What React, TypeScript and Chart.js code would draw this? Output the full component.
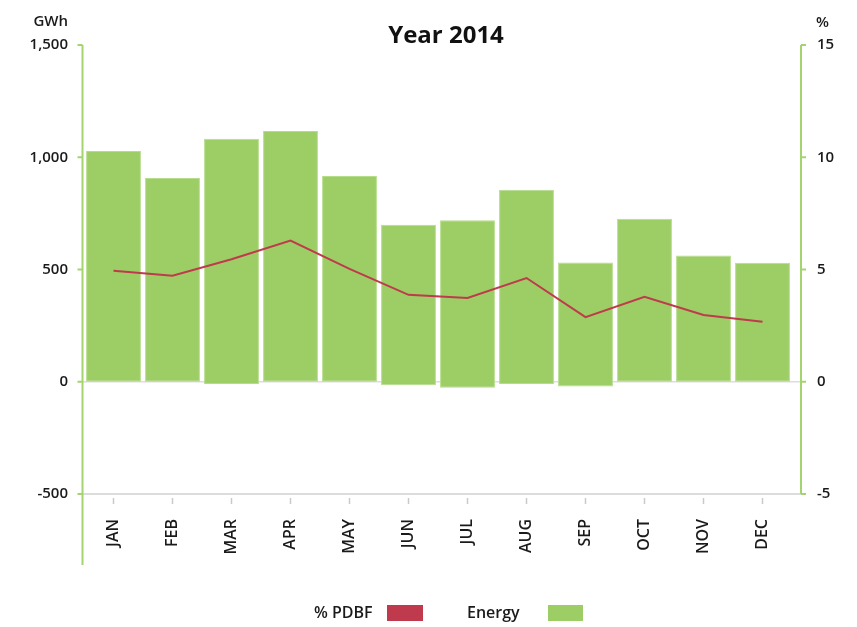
import React, { useEffect, useRef } from 'react';
import { Chart, registerables } from 'chart.js';

Chart.register(...registerables);

const months = ['JAN', 'FEB', 'MAR', 'APR', 'MAY', 'JUN', 'JUL', 'AUG', 'SEP', 'OCT', 'NOV', 'DEC'];
const energyHigh = [1028, 908, 1082, 1117, 917, 699, 719, 855, 531, 726, 562, 530];
const energyLow = [0, 0, -10, 0, 0, -16, -27, -10, -21, 0, 0, 0];
const pdbf = [4.94, 4.72, 5.46, 6.29, 5.03, 3.87, 3.73, 4.62, 2.88, 3.78, 2.97, 2.67];
const leftTicks = [-500, 0, 500, 1000, 1500];
const rightTicks = [-5, 0, 5, 10, 15];
const titleText = 'Year 2014';
const leftUnit = 'GWh';
const rightUnit = '%';
const legendLine = '% PDBF';
const legendBar = 'Energy';

const GREEN = '#9dcd65';
const AXIS_GREEN = '#a4d46e';
const RED = '#bf3a4c';
const FONT = '"Open Sans", sans-serif';

const decorPlugin = {
  id: 'decor',
  beforeDatasetsDraw(chart: any) {
    const { ctx, chartArea, scales } = chart;
    const y0 = scales.y.getPixelForValue(0);
    ctx.save();
    ctx.strokeStyle = '#dddddd';
    ctx.lineWidth = 1.5;
    ctx.beginPath();
    ctx.moveTo(chartArea.left - 2, y0);
    ctx.lineTo(chartArea.right + 9, y0);
    ctx.stroke();
    ctx.restore();
  },
  afterDraw(chart: any) {
    const { ctx, chartArea, scales } = chart;
    const leftX = chartArea.left - 1.5;
    const rightX = chartArea.right + 9;
    ctx.save();
    // baseline
    ctx.strokeStyle = '#dcdcdc';
    ctx.lineWidth = 2;
    ctx.beginPath();
    ctx.moveTo(leftX, chartArea.bottom);
    ctx.lineTo(rightX, chartArea.bottom);
    ctx.stroke();
    // x tick marks
    ctx.strokeStyle = '#c9c9c9';
    ctx.lineWidth = 1.5;
    months.forEach((_, i) => {
      const x = scales.x.getPixelForValue(i);
      ctx.beginPath();
      ctx.moveTo(x, chartArea.bottom + 4);
      ctx.lineTo(x, chartArea.bottom + 10);
      ctx.stroke();
    });
    // axis lines
    ctx.strokeStyle = AXIS_GREEN;
    ctx.lineWidth = 2;
    ctx.beginPath();
    ctx.moveTo(leftX, chartArea.top);
    ctx.lineTo(leftX, chartArea.bottom + 71);
    ctx.stroke();
    ctx.beginPath();
    ctx.moveTo(rightX, chartArea.top);
    ctx.lineTo(rightX, chartArea.bottom);
    ctx.stroke();
    leftTicks.forEach((v) => {
      const y = scales.y.getPixelForValue(v);
      ctx.beginPath();
      ctx.moveTo(leftX - 5, y);
      ctx.lineTo(leftX, y);
      ctx.stroke();
    });
    rightTicks.forEach((v) => {
      const y = scales.y1.getPixelForValue(v);
      ctx.beginPath();
      ctx.moveTo(rightX, y);
      ctx.lineTo(rightX + 5, y);
      ctx.stroke();
    });
    // title
    ctx.fillStyle = '#111111';
    ctx.font = `700 24px ${FONT}`;
    ctx.textAlign = 'center';
    ctx.textBaseline = 'alphabetic';
    ctx.fillText(titleText, 446, 43);
    // units
    ctx.font = `600 15px ${FONT}`;
    ctx.fillStyle = '#1a1a1a';
    ctx.textAlign = 'right';
    ctx.fillText(leftUnit, 68, 26);
    ctx.textAlign = 'left';
    ctx.fillText(rightUnit, 816, 27);
    // legend
    ctx.font = `600 16px ${FONT}`;
    ctx.textAlign = 'left';
    ctx.textBaseline = 'middle';
    ctx.fillText(legendLine, 314, 613);
    ctx.fillStyle = RED;
    ctx.fillRect(387, 605, 36, 16);
    ctx.fillStyle = '#1a1a1a';
    ctx.fillText(legendBar, 467, 613);
    ctx.fillStyle = GREEN;
    ctx.fillRect(548, 605, 35, 16);
    ctx.restore();
  },
};

export default function App() {
  const ref = useRef<HTMLCanvasElement | null>(null);
  useEffect(() => {
    document.body.style.margin = '0';
    const canvas = ref.current;
    if (!canvas) return;
    const chart = new Chart(canvas, {
      type: 'bar',
      data: {
        labels: months,
        datasets: [
          {
            type: 'line',
            label: legendLine,
            data: pdbf,
            yAxisID: 'y1',
            borderColor: RED,
            backgroundColor: RED,
            borderWidth: 2,
            pointRadius: 0,
            tension: 0,
            order: 0,
          } as any,
          {
            type: 'bar',
            label: legendBar,
            data: months.map((_, i) => [energyLow[i], energyHigh[i]]),
            yAxisID: 'y',
            backgroundColor: GREEN,
            borderColor: '#b5dc8a',
            borderWidth: 1,
            borderSkipped: false,
            barPercentage: 0.93,
            categoryPercentage: 1,
            order: 1,
          } as any,
        ],
      },
      options: {
        responsive: false,
        animation: false,
        layout: { padding: { top: 45, left: 0, right: 0, bottom: 0 } },
        plugins: {
          legend: { display: false },
          title: { display: false },
          tooltip: { enabled: false },
        },
        scales: {
          x: {
            type: 'category',
            grid: { display: false, drawTicks: false },
            border: { display: false },
            ticks: {
              minRotation: 90,
              maxRotation: 90,
              padding: 25,
              color: '#1a1a1a',
              font: { family: FONT, size: 16, weight: '600' },
            },
            afterFit: (s: any) => {
              s.height = 133;
            },
          },
          y: {
            position: 'left',
            min: -500,
            max: 1500,
            grid: { display: false, drawTicks: false },
            border: { display: false },
            ticks: {
              stepSize: 500,
              padding: 16,
              color: '#1a1a1a',
              font: { family: FONT, size: 15, weight: '600' },
              callback: (v: any) => Number(v).toLocaleString('en-US'),
            },
            afterFit: (s: any) => {
              s.width = 84;
            },
          },
          y1: {
            position: 'right',
            min: -5,
            max: 15,
            grid: { display: false, drawTicks: false },
            border: { display: false },
            ticks: {
              stepSize: 5,
              padding: 25,
              color: '#1a1a1a',
              font: { family: FONT, size: 15, weight: '600' },
            },
            afterFit: (s: any) => {
              s.width = 65;
            },
          },
        },
      } as any,
      plugins: [decorPlugin],
    });
    return () => chart.destroy();
  }, []);
  return (
    <div style={{ width: 857, height: 627 }}>
      <canvas ref={ref} width={857} height={627} style={{ display: 'block', width: 857, height: 627 }} />
    </div>
  );
}
